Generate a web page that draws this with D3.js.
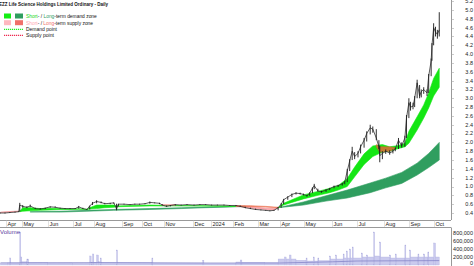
<!DOCTYPE html>
<html>
<head>
<meta charset="utf-8">
<script src="https://cdn.jsdelivr.net/npm/d3@7"></script>
<style>
  html, body { margin: 0; padding: 0; background: #fff; overflow: hidden; }
  svg { display: block; font-family: "Liberation Sans", Arial, sans-serif; }
</style>
</head>
<body>
<div id="chart"></div>
<script>
// month boundaries and how many daily bars each month takes on the chart
const monthEdges = ['2023-03-27', '2023-04-01', '2023-05-01', '2023-06-01', '2023-07-01', '2023-08-01',
  '2023-09-01', '2023-10-01', '2023-11-01', '2023-12-01', '2024-01-01', '2024-02-01', '2024-03-01',
  '2024-04-01', '2024-05-01', '2024-06-01', '2024-07-01', '2024-08-01', '2024-09-01', '2024-10-01', '2024-10-04'];
const monthBars = [5, 14, 23, 22, 19, 25, 18, 19, 26, 16, 20, 22, 19, 22, 25, 22, 24, 22, 22, 5];
const monthLabels = ['Apr', 'May', 'Jun', 'Jul', 'Aug', 'Sep', 'Oct', 'Nov', 'Dec', '2024',
  'Feb', 'Mar', 'Apr', 'May', 'Jun', 'Jul', 'Aug', 'Sep', 'Oct'];

const priceTicks = [0.4, 0.6, 0.8, 1.0, 1.2, 1.4, 1.6, 1.8, 2.0, 2.2, 2.4, 2.6, 2.8, 3.0,
  3.2, 3.4, 3.6, 3.8, 4.0, 4.2, 4.4, 4.6, 4.8, 5.0, 5.2];
const volumeTicks = [0, 200000, 400000, 600000, 800000];

// price
const priceDates = ['2023-03-27', '2023-03-31', '2023-04-08', '2023-04-18', '2023-04-25', '2023-04-27',
  '2023-05-02', '2023-05-07', '2023-05-11', '2023-05-17', '2023-05-23', '2023-05-29', '2023-06-04',
  '2023-06-10', '2023-06-16', '2023-06-22', '2023-06-28', '2023-07-05', '2023-07-10', '2023-07-16',
  '2023-07-22', '2023-07-26', '2023-07-30', '2023-08-04', '2023-08-09', '2023-08-13', '2023-08-19',
  '2023-08-23', '2023-08-26', '2023-08-28', '2023-09-04', '2023-09-13', '2023-09-20', '2023-09-27',
  '2023-10-05', '2023-10-12', '2023-10-19', '2023-10-26', '2023-10-30', '2023-11-04', '2023-11-08',
  '2023-11-13', '2023-11-19', '2023-11-25', '2023-12-03', '2023-12-13', '2023-12-23', '2024-01-02',
  '2024-01-10', '2024-01-19', '2024-01-27', '2024-02-04', '2024-02-09', '2024-02-15', '2024-02-21',
  '2024-02-27', '2024-03-05', '2024-03-12', '2024-03-18', '2024-03-24', '2024-03-30', '2024-04-03',
  '2024-04-06', '2024-04-11', '2024-04-16', '2024-04-21', '2024-04-26', '2024-04-30', '2024-05-04',
  '2024-05-07', '2024-05-10', '2024-05-12', '2024-05-16', '2024-05-20', '2024-05-25', '2024-05-29',
  '2024-06-03', '2024-06-08', '2024-06-13', '2024-06-16', '2024-06-19', '2024-06-22', '2024-06-25',
  '2024-06-28', '2024-07-02', '2024-07-05', '2024-07-09', '2024-07-12', '2024-07-16', '2024-07-19',
  '2024-07-23', '2024-07-26', '2024-07-27', '2024-07-30', '2024-08-03', '2024-08-08', '2024-08-12',
  '2024-08-15', '2024-08-19', '2024-08-23', '2024-08-27', '2024-08-29', '2024-09-01', '2024-09-03',
  '2024-09-06', '2024-09-08', '2024-09-11', '2024-09-14', '2024-09-16', '2024-09-19', '2024-09-23',
  '2024-09-25', '2024-09-28', '2024-09-29', '2024-10-01', '2024-10-02', '2024-10-03', '2024-10-04'];
const priceClose = [0.40, 0.40, 0.41, 0.42, 0.43, 0.58, 0.55, 0.53, 0.56, 0.50, 0.49, 0.51, 0.54,
  0.53, 0.51, 0.50, 0.50, 0.50, 0.54, 0.50, 0.48, 0.56, 0.62, 0.66, 0.64, 0.61, 0.62, 0.63, 0.49,
  0.60, 0.60, 0.59, 0.60, 0.60, 0.61, 0.64, 0.63, 0.62, 0.58, 0.55, 0.57, 0.59, 0.58, 0.59, 0.58,
  0.59, 0.59, 0.58, 0.58, 0.58, 0.57, 0.57, 0.55, 0.52, 0.50, 0.48, 0.47, 0.46, 0.45, 0.46, 0.52,
  0.60, 0.70, 0.76, 0.82, 0.85, 0.84, 0.82, 0.79, 0.85, 0.96, 1.02, 0.90, 0.88, 0.92, 0.95, 1.00,
  1.02, 1.06, 1.10, 1.35, 1.58, 1.80, 1.68, 1.75, 1.90, 2.05, 2.20, 2.33, 2.30, 2.10, 1.90, 1.70,
  1.75, 1.80, 1.76, 1.80, 1.85, 2.05, 1.92, 2.10, 2.55, 2.90, 2.80, 2.82, 3.00, 3.35, 3.05, 3.15,
  3.20, 3.12, 3.50, 3.85, 4.20, 4.60, 4.50, 4.45, 4.55];
const priceHigh = [0.41, 0.41, 0.42, 0.43, 0.44, 0.63, 0.58, 0.55, 0.59, 0.52, 0.51, 0.52, 0.55,
  0.55, 0.52, 0.51, 0.51, 0.51, 0.56, 0.52, 0.49, 0.57, 0.65, 0.69, 0.66, 0.63, 0.63, 0.64, 0.61,
  0.61, 0.61, 0.60, 0.61, 0.61, 0.62, 0.66, 0.64, 0.63, 0.60, 0.57, 0.58, 0.60, 0.59, 0.60, 0.59,
  0.60, 0.60, 0.59, 0.59, 0.59, 0.58, 0.58, 0.57, 0.54, 0.52, 0.50, 0.48, 0.47, 0.46, 0.47, 0.53,
  0.62, 0.72, 0.78, 0.84, 0.87, 0.86, 0.84, 0.81, 0.87, 0.98, 1.06, 0.95, 0.90, 0.94, 0.97, 1.02,
  1.04, 1.08, 1.12, 1.40, 1.62, 1.90, 1.78, 1.80, 1.95, 2.10, 2.25, 2.40, 2.36, 2.30, 2.05, 1.92,
  1.80, 1.84, 1.82, 1.84, 1.88, 2.10, 2.00, 2.15, 2.62, 3.00, 2.92, 2.90, 3.05, 3.42, 3.30, 3.20,
  3.25, 3.20, 3.55, 3.90, 4.25, 4.70, 4.62, 4.55, 4.95];
const priceLow = [0.39, 0.39, 0.40, 0.41, 0.42, 0.43, 0.52, 0.51, 0.53, 0.49, 0.48, 0.49, 0.52,
  0.52, 0.50, 0.49, 0.49, 0.49, 0.50, 0.49, 0.47, 0.48, 0.58, 0.62, 0.62, 0.60, 0.60, 0.61, 0.46,
  0.55, 0.59, 0.58, 0.59, 0.59, 0.60, 0.61, 0.62, 0.60, 0.57, 0.54, 0.55, 0.57, 0.57, 0.58, 0.57,
  0.58, 0.58, 0.57, 0.57, 0.57, 0.56, 0.56, 0.54, 0.51, 0.49, 0.47, 0.46, 0.45, 0.44, 0.45, 0.46,
  0.52, 0.60, 0.70, 0.76, 0.82, 0.82, 0.80, 0.77, 0.79, 0.85, 0.94, 0.88, 0.86, 0.88, 0.92, 0.96,
  0.99, 1.02, 1.05, 1.10, 1.35, 1.60, 1.62, 1.66, 1.75, 1.88, 2.02, 2.18, 2.22, 2.05, 1.85, 1.55,
  1.62, 1.74, 1.72, 1.75, 1.80, 1.85, 1.88, 1.90, 2.10, 2.55, 2.72, 2.75, 2.80, 3.00, 3.00, 3.02,
  3.10, 3.05, 3.12, 3.50, 3.85, 4.20, 4.40, 4.35, 4.40];

// zones (null = gap)
const shortDemandDates = ['2023-04-27', '2023-05-02', '2023-05-11', '2023-05-23', '2023-06-04',
  '2023-06-16', '2023-06-28', '2023-07-10', '2023-07-22', '2023-07-26', '2023-08-04', '2023-08-13',
  '2023-08-23', '2023-08-26', '2023-09-13', '2023-10-12', '2023-11-08', '2023-12-13', '2024-01-19',
  '2024-02-04', '2024-02-10', '2024-03-30', '2024-04-06', '2024-04-16', '2024-04-30', '2024-05-16',
  '2024-05-29', '2024-06-08', '2024-06-19', '2024-06-28', '2024-07-09', '2024-07-19', '2024-07-30',
  '2024-08-08', '2024-08-19', '2024-08-27', '2024-09-01', '2024-09-11', '2024-09-19', '2024-09-25',
  '2024-10-01', '2024-10-04'];
const shortDemandLow = [0.43, 0.44, 0.45, 0.46, 0.47, 0.48, 0.48, 0.485, 0.48, 0.49, 0.50, 0.52,
  0.53, 0.54, 0.55, 0.56, 0.56, 0.56, 0.555, 0.55, null, 0.52, 0.58, 0.64, 0.72, 0.80, 0.86, 0.92,
  1.00, 1.22, 1.50, 1.68, 1.78, 1.80, 1.86, 1.90, 1.98, 2.28, 2.55, 2.78, 3.05, 3.25];
const shortDemandHigh = [0.44, 0.52, 0.52, 0.50, 0.51, 0.50, 0.49, 0.495, 0.485, 0.52, 0.58, 0.58,
  0.58, 0.56, 0.57, 0.58, 0.57, 0.565, 0.56, 0.555, null, 0.52, 0.62, 0.70, 0.81, 0.89, 0.96, 1.02,
  1.18, 1.44, 1.74, 1.92, 1.95, 1.90, 1.93, 1.98, 2.25, 2.58, 2.85, 3.12, 3.45, 3.68];

const longDemandDates = ['2023-05-11', '2023-06-16', '2023-07-22', '2023-08-23', '2023-10-12',
  '2023-11-19', '2023-12-23', '2024-01-27', '2024-02-09', '2024-02-15', '2024-02-20', '2024-03-30',
  '2024-04-30', '2024-05-25', '2024-06-19', '2024-07-16', '2024-08-03', '2024-08-23', '2024-09-11',
  '2024-09-25', '2024-10-04'];
const longDemandLow = [0.42, 0.42, 0.44, 0.46, 0.48, 0.50, 0.52, 0.535, 0.545, 0.55, null, 0.52,
  0.58, 0.67, 0.74, 0.86, 0.97, 1.07, 1.26, 1.43, 1.60];
const longDemandHigh = [0.43, 0.44, 0.46, 0.48, 0.50, 0.52, 0.535, 0.545, 0.55, 0.55, null, 0.52,
  0.65, 0.79, 0.92, 1.08, 1.19, 1.32, 1.53, 1.75, 2.00];

const shortSupplyDates = ['2023-03-27', '2023-04-25', '2023-04-26', '2023-10-30', '2023-11-13',
  '2023-11-14', '2024-02-04', '2024-02-15', '2024-02-27', '2024-03-12', '2024-03-24', '2024-03-30'];
const shortSupplyLow = [0.41, 0.435, null, 0.57, 0.575, null, 0.55, 0.53, 0.50, 0.48, 0.47, 0.52];
const shortSupplyHigh = [0.42, 0.445, null, 0.59, 0.585, null, 0.56, 0.55, 0.53, 0.51, 0.50, 0.52];

const longSupplyDates = ['2024-02-04', '2024-02-21', '2024-03-12', '2024-03-30', '2024-04-01',
  '2024-07-23', '2024-07-27', '2024-08-08', '2024-08-15'];
const longSupplyLow = [0.555, 0.55, 0.535, 0.52, null, 1.90, 1.78, 1.80, 1.86];
const longSupplyHigh = [0.565, 0.565, 0.55, 0.53, null, 1.95, 1.90, 1.90, 1.88];

// volume: each bar runs until the next date
const volumeDates = ['2023-03-27', '2023-04-03', '2023-04-08', '2023-04-10', '2023-04-27', '2023-04-28',
  '2023-05-01', '2023-05-07', '2023-05-09', '2023-06-01', '2023-07-01', '2023-07-26', '2023-07-28',
  '2023-07-30', '2023-08-01', '2023-08-04', '2023-08-06', '2023-08-08', '2023-08-09', '2023-08-26',
  '2023-08-27', '2023-10-15', '2023-10-16', '2023-12-18', '2023-12-20', '2024-02-04', '2024-02-09',
  '2024-02-11', '2024-03-10', '2024-03-30', '2024-04-07', '2024-04-09', '2024-04-13', '2024-04-15',
  '2024-04-21', '2024-05-03', '2024-05-04', '2024-05-11', '2024-05-12', '2024-05-16', '2024-05-17',
  '2024-05-29', '2024-05-30', '2024-06-05', '2024-06-06', '2024-06-14', '2024-06-15', '2024-06-18',
  '2024-06-19', '2024-06-22', '2024-06-23', '2024-06-25', '2024-06-26', '2024-07-06', '2024-07-07',
  '2024-07-12', '2024-07-13', '2024-07-20', '2024-07-21', '2024-07-27', '2024-07-28', '2024-08-08',
  '2024-08-09', '2024-08-15', '2024-08-16', '2024-08-27', '2024-08-28', '2024-09-02', '2024-09-03',
  '2024-09-12', '2024-09-13', '2024-09-19', '2024-09-20', '2024-09-24', '2024-09-25', '2024-10-01',
  '2024-10-02', '2024-10-04'];
const volumeValues = [40000, 50000, 175000, 50000, 825000, 200000, 80000, 150000, 60000, 50000, 45000,
  225000, 60000, 275000, 70000, 250000, 80000, 175000, 60000, 375000, 60000, 175000, 50000, 120000,
  40000, 75000, 125000, 70000, 60000, 150000, 200000, 150000, 250000, 150000, 120000, 175000, 100000,
  200000, 100000, 175000, 110000, 225000, 150000, 250000, 150000, 275000, 175000, 350000, 175000,
  400000, 175000, 450000, 175000, 300000, 200000, 250000, 200000, 825000, 225000, 575000, 200000,
  250000, 175000, 275000, 175000, 500000, 175000, 375000, 200000, 275000, 200000, 275000, 200000,
  325000, 200000, 550000, 200000, 200000];

const volumeAvgDates = ['2023-03-27', '2023-08-01', '2024-01-01', '2024-04-01', '2024-06-01', '2024-07-01', '2024-10-04'];
const volumeAvg = [55000, 60000, 50000, 50000, 80000, 100000, 110000];

const width = 474, height = 266;
const plotRight = 451, plotBottom = 220;
const parse = d3.utcParse('%Y-%m-%d');

const svg = d3.select('#chart').append('svg')
  .attr('width', width)
  .attr('height', height);

// x: trading bars per month, stretched over calendar days inside each month
const cum = [0];
monthBars.forEach(b => cum.push(cum[cum.length - 1] + b));
const barScale = d3.scaleLinear().domain([0, cum[cum.length - 1]]).range([0.5, 439.25]);
const x = d3.scaleUtc().domain(monthEdges.map(parse)).range(cum.map(barScale));
const y = d3.scaleLinear().domain([0.4, 5.0]).range([213, 10]);
const yVol = d3.scaleLinear().domain([0, 800000]).range([265, 233]);

svg.append('clipPath').attr('id', 'plot')
  .append('rect').attr('x', 0).attr('y', 0).attr('width', plotRight).attr('height', plotBottom);

const plot = svg.append('g').attr('clip-path', 'url(#plot)');

function zone(dates, lo, hi) {
  return dates.map((d, i) => ({ date: parse(d), lo: lo[i], hi: hi[i] }));
}
const band = d3.area()
  .defined(d => d.lo !== null)
  .x(d => x(d.date))
  .y0(d => y(d.lo))
  .y1(d => y(d.hi));

plot.append('path').datum(zone(longDemandDates, longDemandLow, longDemandHigh))
  .attr('d', band).attr('fill', '#2f9e5f').attr('stroke', '#2f9e5f').attr('stroke-width', 0.6);
plot.append('path').datum(zone(shortDemandDates, shortDemandLow, shortDemandHigh))
  .attr('d', band).attr('fill', '#14e614').attr('stroke', '#14e614').attr('stroke-width', 0.6);
plot.append('path').datum(zone(shortSupplyDates, shortSupplyLow, shortSupplyHigh))
  .attr('d', band).attr('fill', '#ff9aa8').attr('stroke', '#f08080').attr('stroke-width', 0.6)
  .attr('opacity', 0.85);
plot.append('path').datum(zone(longSupplyDates, longSupplyLow, longSupplyHigh))
  .attr('d', band).attr('fill', '#f0603a').attr('stroke', '#e8542e').attr('stroke-width', 0.6)
  .attr('opacity', 0.8);

// price
const prices = priceDates.map((d, i) => ({
  date: parse(d), close: priceClose[i], high: priceHigh[i], low: priceLow[i]
}));

plot.append('path').datum(prices)
  .attr('d', d3.line().x(d => x(d.date)).y(d => y(d.close)))
  .attr('fill', 'none')
  .attr('stroke', '#333')
  .attr('stroke-width', 0.8);

plot.selectAll('.bar')
  .data(prices)
  .enter()
  .append('line')
  .attr('class', 'bar')
  .attr('x1', d => x(d.date))
  .attr('x2', d => x(d.date))
  .attr('y1', d => y(d.high))
  .attr('y2', d => y(d.low))
  .attr('stroke', '#1a1a1a')
  .attr('stroke-width', 0.9);

// right price axis
svg.append('line')
  .attr('x1', plotRight + 0.5).attr('x2', plotRight + 0.5)
  .attr('y1', 0).attr('y2', plotBottom)
  .attr('stroke', '#999').attr('stroke-width', 1);

const yAxis = svg.append('g').attr('font-size', '5.5px').attr('fill', '#222');
priceTicks.forEach(t => {
  yAxis.append('line')
    .attr('x1', plotRight + 0.5).attr('x2', plotRight + 3)
    .attr('y1', Math.round(y(t)) + 0.5).attr('y2', Math.round(y(t)) + 0.5)
    .attr('stroke', '#aaa').attr('stroke-width', 0.6);
  yAxis.append('text')
    .attr('x', 473).attr('y', y(t))
    .attr('dy', '0.35em')
    .attr('text-anchor', 'end')
    .text(d3.format('.1f')(t));
});

// bottom month axis
svg.append('line').attr('x1', 0).attr('x2', plotRight)
  .attr('y1', 220.5).attr('y2', 220.5).attr('stroke', '#999');
svg.append('line').attr('x1', 0).attr('x2', plotRight)
  .attr('y1', 227.5).attr('y2', 227.5).attr('stroke', '#999');

const xAxis = svg.append('g').attr('font-size', '5.5px').attr('fill', '#222');
monthLabels.forEach((label, i) => {
  const px = Math.round(x(parse(monthEdges[i + 1]))) + 0.5;
  xAxis.append('line')
    .attr('x1', px).attr('x2', px).attr('y1', 220.5).attr('y2', 227)
    .attr('stroke', '#ccc').attr('stroke-width', 0.6);
  xAxis.append('text')
    .attr('x', px + 1).attr('y', 225.6)
    .text(label);
});

// volume panel
const vol = volumeDates.map((d, i) => ({ date: parse(d), value: volumeValues[i] }));
const volBars = vol.slice(0, -1).map((d, i) => ({ x0: x(d.date), x1: x(vol[i + 1].date), value: d.value }));

svg.append('g').selectAll('rect')
  .data(volBars)
  .enter()
  .append('rect')
  .attr('x', d => d.x0)
  .attr('width', d => Math.max(1, d.x1 - d.x0))
  .attr('y', d => yVol(d.value))
  .attr('height', d => yVol(0) - yVol(d.value))
  .attr('fill', '#cacaee')
  .attr('stroke', '#a9a9dc')
  .attr('stroke-width', 0.3);

svg.append('path')
  .datum(volumeAvgDates.map((d, i) => ({ date: parse(d), value: volumeAvg[i] })))
  .attr('d', d3.line().x(d => x(d.date)).y(d => yVol(d.value)))
  .attr('fill', 'none')
  .attr('stroke', '#7c7cc4')
  .attr('stroke-width', 0.7);

svg.append('line')
  .attr('x1', plotRight + 0.5).attr('x2', plotRight + 0.5)
  .attr('y1', 227.5).attr('y2', height)
  .attr('stroke', '#999');

const volAxis = svg.append('g').attr('font-size', '5.5px').attr('fill', '#222');
volumeTicks.forEach(t => {
  volAxis.append('text')
    .attr('x', 473).attr('y', Math.min(yVol(t), 263))
    .attr('dy', '0.35em')
    .attr('text-anchor', 'end')
    .text(d3.format(',')(t));
});

svg.append('text')
  .attr('x', 0).attr('y', 233.5)
  .attr('font-size', '6px')
  .attr('fill', '#5a3c9c')
  .text('Volume');

// title and legend
svg.append('text')
  .attr('x', -1).attr('y', 5.8)
  .attr('font-size', '6.2px')
  .attr('font-weight', 'bold')
  .attr('fill', '#111')
  .attr('textLength', 109)
  .attr('lengthAdjust', 'spacingAndGlyphs')
  .text('EZZ Life Science Holdings Limited Ordinary - Daily');

const legend = svg.append('g').attr('font-size', '5.6px').attr('fill', '#111');

legend.append('rect').attr('x', 4).attr('y', 13.5).attr('width', 7).attr('height', 5).attr('fill', '#14ee14');
legend.append('rect').attr('x', 15).attr('y', 13.5).attr('width', 8).attr('height', 5).attr('fill', '#2f9e5f');
legend.append('rect').attr('x', 4).attr('y', 20.2).attr('width', 7).attr('height', 5).attr('fill', '#ffb8c0');
legend.append('rect').attr('x', 15).attr('y', 20.2).attr('width', 8).attr('height', 5).attr('fill', '#f0706a');
legend.append('line').attr('x1', 4).attr('x2', 23).attr('y1', 29.3).attr('y2', 29.3)
  .attr('stroke', '#22ee22').attr('stroke-width', 1.2).attr('stroke-dasharray', '1.2,0.8');
legend.append('line').attr('x1', 4).attr('x2', 23).attr('y1', 35.3).attr('y2', 35.3)
  .attr('stroke', '#ee2a50').attr('stroke-width', 1.2).attr('stroke-dasharray', '1.2,0.8');

// squeeze a legend line horizontally to the width it has in the picture
function legendRow(yPos, parts, targetWidth) {
  const g = legend.append('g');
  const t = g.append('text').attr('x', 0).attr('y', 0);
  parts.forEach(p => t.append('tspan').attr('fill', p[1] || '#111').text(p[0]));
  const w = t.node().getComputedTextLength();
  g.attr('transform', `translate(26,${yPos}) scale(${targetWidth / w},1)`);
}

legendRow(18.4, [['Short', '#14d814'], ['- / '], ['Long', '#2f9e5f'], ['-term demand zone']], 71);
legendRow(24.8, [['Short', '#ffa8b4'], ['- / '], ['Long', '#f0706a'], ['-term supply zone']], 67);
legendRow(31.2, [['Demand point']], 31);
legendRow(37.3, [['Supply point']], 28);
</script>
</body>
</html>
